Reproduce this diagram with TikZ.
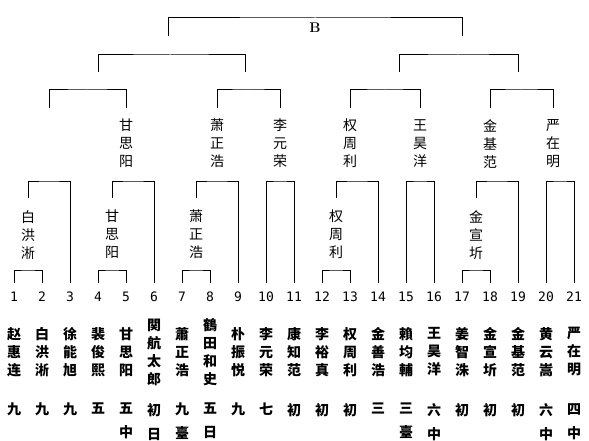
\documentclass[tikz,border=0pt]{standalone}
\usepackage{fontspec}
\usepackage{tikz}
\newfontfamily\cjk{Noto Sans CJK SC}
\setmonofont{DejaVu Sans Mono}

\begin{document}
\begin{tikzpicture}[
    x=1pt, y=-1pt,
    line/.style={draw, line width=1pt},
    num/.style={font=\ttfamily\fontsize{13}{13}\selectfont, inner sep=0},
    player/.style={font=\cjk\bfseries\fontsize{14}{18}\selectfont, align=center, inner sep=0},
    rank/.style={font=\cjk\bfseries\fontsize{14}{24}\selectfont, align=center, inner sep=0, anchor=north},
    winner/.style={font=\cjk\fontsize{14}{18}\selectfont, align=center, inner sep=0, anchor=north},
]
    \useasboundingbox (0,0) rectangle (589,441);

    % players: number, name, rank
    \foreach \i/\nm/\rk in {1/赵\\惠\\连/九, 2/白\\洪\\淅/九, 3/徐\\能\\旭/九,
        4/裴\\俊\\熙/五, 5/甘\\思\\阳/五\\中, 6/関\\航\\太\\郎/初\\日,
        7/蕭\\正\\浩/九\\臺, 8/鶴\\田\\和\\史/五\\日, 9/朴\\振\\悦/九,
        10/李\\元\\荣/七, 11/康\\知\\范/初, 12/李\\裕\\真/初,
        13/权\\周\\利/初, 14/金\\善\\浩/三, 15/賴\\均\\輔/三\\臺,
        16/王\\昊\\洋/六\\中, 17/姜\\智\\洙/初, 18/金\\宣\\圻/初,
        19/金\\基\\范/初, 20/黄\\云\\嵩/六\\中, 21/严\\在\\明/四\\中} {
        \node[num] (p\i) at ({14+28*(\i-1)}, 297) {\i};
        \node[player] (n\i) at ({14+28*(\i-1)}, 352) {\nm};
        \node[rank] (r\i) at ({14+28*(\i-1)}, 403) {\rk};
    }

    % winners of the lower rounds
    \node[winner] (w1) at (28, 210) {白\\洪\\淅};
    \node[winner] (w2) at (112, 210) {甘\\思\\阳};
    \node[winner] (w3) at (196, 210) {萧\\正\\浩};
    \node[winner] (w4) at (336, 210) {权\\周\\利};
    \node[winner] (w5) at (476, 210) {金\\宣\\圻};

    \node[winner] (v2) at (126, 119) {甘\\思\\阳};
    \node[winner] (v3) at (217, 119) {萧\\正\\浩};
    \node[winner] (v4) at (280, 119) {李\\元\\荣};
    \node[winner] (v5) at (350, 119) {权\\周\\利};
    \node[winner] (v6) at (420, 119) {王\\昊\\洋};
    \node[winner] (v7) at (490, 119) {金\\基\\范};
    \node[winner] (v8) at (553, 119) {严\\在\\明};

    \node[font=\bfseries\fontsize{14}{14}\selectfont, inner sep=0] (final) at (315, 28) {B};

    % bracket joins
    \coordinate (k12) at (28, 270);
    \coordinate (k45) at (112, 270);
    \coordinate (k78) at (196, 270);
    \coordinate (k1213) at (336, 270);
    \coordinate (k1718) at (476, 270);
    \coordinate (k3) at (49, 181);
    \coordinate (k6) at (133, 181);
    \coordinate (k9) at (217, 181);
    \coordinate (k1011) at (280, 181);
    \coordinate (k14) at (357, 181);
    \coordinate (k1516) at (420, 181);
    \coordinate (k19) at (497, 181);
    \coordinate (k2021) at (560, 181);
    \coordinate (e1) at (49, 108);
    \coordinate (t1) at (87, 90);
    \coordinate (t2) at (248, 90);
    \coordinate (t3) at (385, 90);
    \coordinate (t4) at (521, 90);
    \coordinate (e2) at (98, 72);
    \coordinate (e3) at (245, 72);
    \coordinate (e4) at (399, 72);
    \coordinate (e5) at (518, 72);
    \coordinate (s1) at (170, 55);
    \coordinate (s2) at (458, 55);
    \coordinate (e6) at (168, 36);
    \coordinate (e7) at (462, 36);
    \coordinate (top) at (315, 18);

    % first round
    \draw[line, shorten <=9pt, shorten >=9pt] (p1.north) |- (k12) -| (p2.north);
    \draw[line, shorten <=9pt, shorten >=9pt] (p4.north) |- (k45) -| (p5.north);
    \draw[line, shorten <=9pt, shorten >=9pt] (p7.north) |- (k78) -| (p8.north);
    \draw[line, shorten <=9pt, shorten >=9pt] (p12.north) |- (k1213) -| (p13.north);
    \draw[line, shorten <=9pt, shorten >=9pt] (p17.north) |- (k1718) -| (p18.north);

    % second round
    \draw[line, shorten <=12pt, shorten >=9pt] (w1.north) |- (k3) -| (p3.north);
    \draw[line, shorten <=12pt, shorten >=9pt] (w2.north) |- (k6) -| (p6.north);
    \draw[line, shorten <=12pt, shorten >=9pt] (w3.north) |- (k9) -| (p9.north);
    \draw[line, shorten <=9pt, shorten >=9pt] (p10.north) |- (k1011) -| (p11.north);
    \draw[line, shorten <=12pt, shorten >=9pt] (w4.north) |- (k14) -| (p14.north);
    \draw[line, shorten <=9pt, shorten >=9pt] (p15.north) |- (k1516) -| (p16.north);
    \draw[line, shorten <=12pt, shorten >=9pt] (w5.north) |- (k19) -| (p19.north);
    \draw[line, shorten <=9pt, shorten >=9pt] (p20.north) |- (k2021) -| (p21.north);

    % third round
    \draw[line, shorten >=11pt] (e1) |- (t1) -| (v2.north);
    \draw[line, shorten <=11pt, shorten >=11pt] (v3.north) |- (t2) -| (v4.north);
    \draw[line, shorten <=11pt, shorten >=11pt] (v5.north) |- (t3) -| (v6.north);
    \draw[line, shorten <=11pt, shorten >=11pt] (v7.north) |- (t4) -| (v8.north);

    % semifinals and final
    \draw[line] (e2) |- (s1) -| (e3);
    \draw[line] (e4) |- (s2) -| (e5);
    \draw[line] (e6) |- (top) -| (e7);
\end{tikzpicture}
\end{document}
